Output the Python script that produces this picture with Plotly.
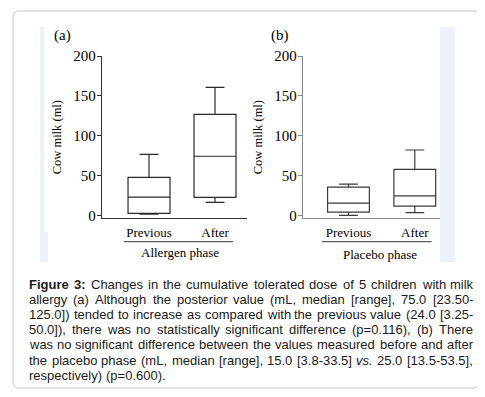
import plotly.graph_objects as go

# The page body has an 8px default margin, so the figure is sized to the
# visible window area and all layout positions are given in window pixels.
WIN_W, WIN_H = 485, 397
OFF = 8
W, H = WIN_W - OFF, WIN_H - OFF

# ---------------- data ----------------
categories = ["Previous", "After"]

allergen_min = [2.0, 16.8]
allergen_q1 = [3.0, 23.0]
allergen_median = [23.4, 74.5]
allergen_q3 = [48.1, 127.0]
allergen_max = [76.9, 160.8]

placebo_min = [0.5, 3.8]
placebo_q1 = [4.6, 12.1]
placebo_median = [15.9, 25.0]
placebo_q3 = [35.9, 58.1]
placebo_max = [39.7, 82.3]

y_ticks = [0, 50, 100, 150, 200]
panel_labels = ["(a)", "(b)"]
group_labels = ["Allergen phase", "Placebo phase"]
y_title = "Cow milk (ml)"

caption_lines = [
    "Figure 3: Changes in the cumulative tolerated dose of 5 children with milk",
    "allergy (a) Although the posterior value (mL, median [range], 75.0 [23.50-",
    "125.0]) tended to increase as compared with the previous value (24.0 [3.25-",
    "50.0]), there was no statistically significant difference (p=0.116), (b) There",
    "was no significant difference between the values measured before and after",
    "the placebo phase (mL, median [range], 15.0 [3.8-33.5] vs. 25.0 [13.5-53.5],",
    "respectively) (p=0.600).",
]
bold_words = {(0, 0), (0, 1)}
italic_words = {"vs."}


def px(x):
    return (x - OFF) / W


def py(y):
    return 1 - (y - OFF) / H


SERIF = "Liberation Serif, Times New Roman, serif"
SANS = "Liberation Sans, Arial, sans-serif"

fig = go.Figure()

box_common = dict(
    fillcolor="white",
    whiskerwidth=0.45,
    boxpoints=False,
    showlegend=False,
    hoverinfo="skip",
)

fig.add_trace(go.Box(
    x=categories, q1=allergen_q1, median=allergen_median, q3=allergen_q3,
    lowerfence=allergen_min, upperfence=allergen_max,
    width=0.636, line=dict(color="#2a2a2a", width=1.2),
    xaxis="x", yaxis="y", **box_common))

fig.add_trace(go.Box(
    x=categories, q1=placebo_q1, median=placebo_median, q3=placebo_q3,
    lowerfence=placebo_min, upperfence=placebo_max,
    width=0.63, line=dict(color="#3a3a3a", width=1.2),
    xaxis="x2", yaxis="y2", **box_common))

y_dom = [py(218.3), py(56)]

xa_common = dict(
    type="category", showline=True, showgrid=False, zeroline=False,
    ticks="outside", ticklen=2, tickcolor="rgba(0,0,0,0)",
    tickfont=dict(family=SERIF, size=13, color="black"),
    fixedrange=True, automargin=False,
)
ya_common = dict(
    range=[-3.2, 200], tickvals=y_ticks, ticktext=[str(v) for v in y_ticks],
    showline=True, showgrid=False, zeroline=False,
    ticks="outside", ticklen=4, ticklabelstandoff=-2,
    tickfont=dict(family=SERIF, size=15, color="black"),
    title=dict(text=y_title, font=dict(family=SERIF, size=12.5, color="black"),
               standoff=8),
    fixedrange=True, automargin=False,
)

fig.update_layout(
    width=W, height=H,
    margin=dict(l=0, r=0, t=0, b=0),
    paper_bgcolor="white", plot_bgcolor="rgba(0,0,0,0)",
    xaxis=dict(domain=[px(101.7), px(246.7)], range=[-0.717, 1.48],
               linecolor="#333333", anchor="y", **xa_common),
    yaxis=dict(domain=y_dom, anchor="x", linecolor="#333333",
               tickcolor="#333333", **ya_common),
    xaxis2=dict(domain=[px(302.7), px(440)], range=[-0.69, 1.38],
                linecolor="#8a8a8a", anchor="y2", **xa_common),
    yaxis2=dict(domain=y_dom, anchor="x2", linecolor="#8a8a8a",
                tickcolor="#8a8a8a", **ya_common),
)

shapes = []
# outer rounded frame
L, T, R, B, r = 13, 11, 480, 388, 6
path = (f"M {px(L + r)} {py(T)} L {px(R - r)} {py(T)} Q {px(R)} {py(T)} {px(R)} {py(T + r)} "
        f"L {px(R)} {py(B - r)} Q {px(R)} {py(B)} {px(R - r)} {py(B)} "
        f"L {px(L + r)} {py(B)} Q {px(L)} {py(B)} {px(L)} {py(B - r)} "
        f"L {px(L)} {py(T + r)} Q {px(L)} {py(T)} {px(L + r)} {py(T)} Z")
shapes.append(dict(type="path", xref="paper", yref="paper", path=path,
                   line=dict(color="#c4c4c4", width=1), layer="below"))
# light background strips of the original figure image
for (x0, y0, x1, y1) in [(40, 27, 44.5, 232), (40, 232, 48, 262), (440, 27, 455, 262)]:
    shapes.append(dict(type="rect", xref="paper", yref="paper",
                       x0=px(x0), x1=px(x1), y0=py(y1), y1=py(y0),
                       fillcolor="#edf1f8", line=dict(width=0), layer="below"))
# group underlines
for (x0, x1) in [(124, 233), (322, 431.7)]:
    shapes.append(dict(type="line", xref="paper", yref="paper",
                       x0=px(x0), x1=px(x1), y0=py(241.7), y1=py(241.7),
                       line=dict(color="#333333", width=1)))
fig.update_layout(shapes=shapes)

ann = []
# panel labels
for lab, xl in zip(panel_labels, [52, 269]):
    ann.append(dict(text=lab, x=px(xl), y=py(35), xref="paper", yref="paper",
                    xanchor="left", yanchor="middle", showarrow=False,
                    font=dict(family=SERIF, size=15, color="black")))
# group labels
for lab, xc, yc in zip(group_labels, [180, 380], [252.3, 254]):
    ann.append(dict(text=lab, x=px(xc), y=py(yc), xref="paper", yref="paper",
                    xanchor="center", yanchor="middle", showarrow=False,
                    font=dict(family=SERIF, size=13, color="black")))

# ----- justified caption (Arial / Liberation Sans metrics) -----
REG = {' ': 278, 'a': 556, 'b': 556, 'c': 500, 'd': 556, 'e': 556, 'f': 278, 'g': 556,
       'h': 556, 'i': 222, 'j': 222, 'k': 500, 'l': 222, 'm': 833, 'n': 556, 'o': 556,
       'p': 556, 'q': 556, 'r': 333, 's': 500, 't': 278, 'u': 556, 'v': 500, 'w': 722,
       'x': 500, 'y': 500, 'z': 500, 'A': 667, 'C': 722, 'F': 611, 'L': 556, 'T': 611,
       'M': 833, '(': 333, ')': 333, '[': 278, ']': 278, '.': 278, ',': 278, ':': 278,
       '-': 333, '=': 584}
BOLD = {'F': 611, 'i': 278, 'g': 611, 'u': 611, 'r': 389, 'e': 556, ':': 333}
for d in "0123456789":
    REG[d] = 556
    BOLD[d] = 556

FS = 13
left_px, right_px = 29, 473
line_y = [284, 299.3, 314.4, 329.5, 344.8, 360, 375.2]


def word_w(wd, bold):
    tot = 0
    for ch in wd:
        tot += (BOLD.get(ch, REG.get(ch, 556)) if bold else REG.get(ch, 556))
    return tot * FS / 1000.0


for li, line in enumerate(caption_lines):
    words = line.split(" ")
    bolds = [(li, wi) in bold_words for wi in range(len(words))]
    widths = [word_w(w, b) for w, b in zip(words, bolds)]
    if li < len(caption_lines) - 1 and len(words) > 1:
        gap = (right_px - left_px - sum(widths)) / (len(words) - 1)
    else:
        gap = 0.278 * FS
    xcur = left_px
    for wi, (wd, b, wdt) in enumerate(zip(words, bolds, widths)):
        txt = wd
        if b:
            txt = f"<b>{wd}</b>"
        elif wd in italic_words:
            txt = f"<i>{wd}</i>"
        ann.append(dict(text=txt, x=px(xcur), y=py(line_y[li]), xref="paper",
                        yref="paper", xanchor="left", yanchor="middle",
                        showarrow=False, borderpad=0, borderwidth=0,
                        font=dict(family=SANS, size=FS, color="#1a1a1a")))
        xcur += wdt + gap

fig.update_layout(annotations=ann)

fig.write_html("out.html")
